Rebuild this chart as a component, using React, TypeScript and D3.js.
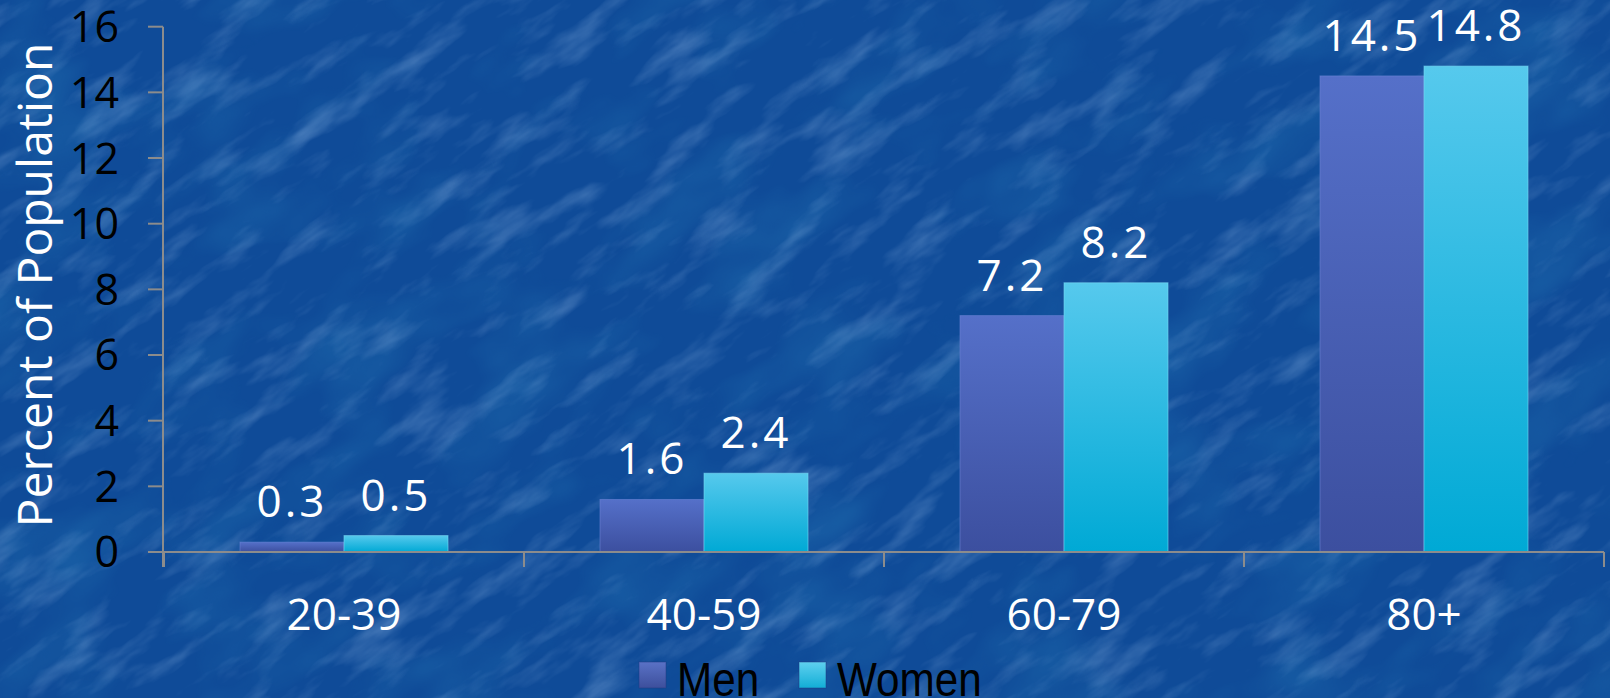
import React from "react";
import * as d3 from "d3";

const categories = ["20-39", "40-59", "60-79", "80+"];
const seriesNames = ["Men", "Women"];
const menValues = [0.3, 1.6, 7.2, 14.5];
const womenValues = [0.5, 2.4, 8.2, 14.8];
const yTicks = [0, 2, 4, 6, 8, 10, 12, 14, 16];
const yTitle = "Percent of Population";

const W = 1610;
const H = 698;

export default function App() {
  const y = d3.scaleLinear().domain([0, 16]).range([552, 26.7]);
  const x0 = d3.scaleBand<string>().domain(categories).range([164, 1604]).paddingInner(0).paddingOuter(0);
  const groupPad = (x0.bandwidth() - 208) / 2;
  const x1 = d3.scaleBand<string>().domain(seriesNames).range([groupPad, x0.bandwidth() - groupPad]).padding(0);
  const series = [
    { name: "Men", values: menValues, fill: "url(#gMen)", stroke: "#6b84d6" },
    { name: "Women", values: womenValues, fill: "url(#gWomen)", stroke: "#7ad8f4" },
  ];
  const axisColor = "#8c8c8c";
  const font = "'Open Sans', sans-serif";
  const legendItems = [
    { name: "Men", x: 639, fill: "url(#gMenL)" },
    { name: "Women", x: 799, fill: "url(#gWomenL)" },
  ];

  return (
    <svg width={W} height={H} style={{ position: "absolute", left: 0, top: 0, display: "block" }}>
      <defs>
        <linearGradient id="gMen" x1="0" y1="0" x2="0" y2="1">
          <stop offset="0" stopColor="#5570c9" />
          <stop offset="1" stopColor="#3c4f9f" />
        </linearGradient>
        <linearGradient id="gWomen" x1="0" y1="0" x2="0" y2="1">
          <stop offset="0" stopColor="#56c9ed" />
          <stop offset="1" stopColor="#00a9d5" />
        </linearGradient>
        <linearGradient id="gMenL" x1="0" y1="0" x2="0" y2="1">
          <stop offset="0" stopColor="#5a72c6" />
          <stop offset="1" stopColor="#3d4f9c" />
        </linearGradient>
        <linearGradient id="gWomenL" x1="0" y1="0" x2="0" y2="1">
          <stop offset="0" stopColor="#5fd0ef" />
          <stop offset="1" stopColor="#12aed6" />
        </linearGradient>
        <filter id="tex" x="0" y="0" width="100%" height="100%">
          <feTurbulence type="fractalNoise" baseFrequency="0.012 0.04" numOctaves="4" seed="7" />
          <feColorMatrix
            type="matrix"
            values="0 0 0 0 0.35  0 0 0 0 0.55  0 0 0 0 0.85  1.8 0 0 0 -0.9"
          />
        </filter>
        <filter id="tex2" x="0" y="0" width="100%" height="100%">
          <feTurbulence type="fractalNoise" baseFrequency="0.008 0.015" numOctaves="3" seed="3" />
          <feColorMatrix
            type="matrix"
            values="0 0 0 0 0.02  0 0 0 0 0.2  0 0 0 0 0.48  1.5 0 0 0 -0.7"
          />
        </filter>
      </defs>

      <rect x={0} y={0} width={W} height={H} fill="#0f4b98" />
      <g transform={`rotate(-35 ${W / 2} ${H / 2})`}>
        <rect x={-400} y={-700} width={W + 800} height={H + 1400} filter="url(#tex2)" opacity={0.55} />
        <rect x={-400} y={-700} width={W + 800} height={H + 1400} filter="url(#tex)" opacity={0.45} />
      </g>

      {/* Y title */}
      <text
        transform={`translate(52 ${285}) rotate(-90)`}
        textAnchor="middle"
        fontFamily={font}
        fontSize={48}
        fill="#ffffff"
      >
        {yTitle}
      </text>

      {/* Y axis */}
      <line x1={163} x2={163} y1={y(16)} y2={567} stroke={axisColor} strokeWidth={2} />
      {yTicks.map((t) => (
        <g key={t}>
          <line x1={148} x2={163} y1={y(t)} y2={y(t)} stroke={axisColor} strokeWidth={2} />
          <text
            x={119}
            y={y(t)}
            dy="0.36em"
            textAnchor="end"
            fontFamily={font}
            fontSize={43}
            fill="#000000"
          >
            {t}
          </text>
        </g>
      ))}

      {/* Bars */}
      {categories.map((c, i) => (
        <g key={c} transform={`translate(${x0(c)},0)`}>
          {series.map((s) => {
            const v = s.values[i];
            const bx = x1(s.name) as number;
            const bw = x1.bandwidth();
            return (
              <g key={s.name}>
                <rect
                  x={bx}
                  y={y(v)}
                  width={bw}
                  height={y(0) - y(v)}
                  fill={s.fill}
                  stroke={s.stroke}
                  strokeOpacity={0.6}
                  strokeWidth={1}
                />
                <text
                  x={bx + bw / 2}
                  y={y(v) - 25}
                  textAnchor="middle"
                  fontFamily={font}
                  fontSize={44}
                  fill="#ffffff"
                  letterSpacing={3}
                >
                  {v.toFixed(1)}
                </text>
              </g>
            );
          })}
        </g>
      ))}

      {/* X axis */}
      <line x1={148} x2={1604} y1={y(0)} y2={y(0)} stroke={axisColor} strokeWidth={2} />
      {[...categories.map((c) => x0(c) as number), 1604].map((xv, i) => (
        <line key={i} x1={xv} x2={xv} y1={y(0)} y2={567} stroke={axisColor} strokeWidth={2} />
      ))}
      {categories.map((c) => (
        <text
          key={c}
          x={(x0(c) as number) + x0.bandwidth() / 2}
          y={630}
          textAnchor="middle"
          fontFamily={font}
          fontSize={44}
          fill="#ffffff"
        >
          {c}
        </text>
      ))}

      {/* Legend */}
      {legendItems.map((l) => (
        <g key={l.name}>
          <rect x={l.x} y={662} width={27} height={26} fill={l.fill} stroke="#203a80" strokeOpacity={0.5} />
          <text
            transform={`translate(${l.x + 38} 696) scale(0.88 1)`}
            fontFamily="'Liberation Sans', Arial, sans-serif"
            fontSize={48}
            fill="#000000"
          >
            {l.name}
          </text>
        </g>
      ))}
    </svg>
  );
}
